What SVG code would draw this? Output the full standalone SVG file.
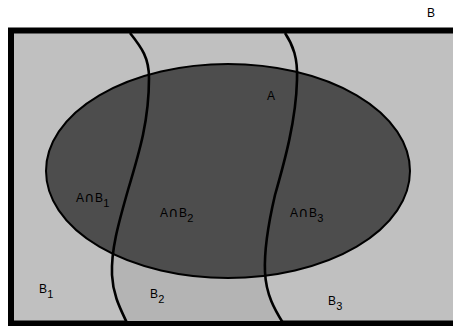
<svg xmlns="http://www.w3.org/2000/svg" width="453" height="326" viewBox="0 0 453 326">
<style>
.t{font-family:"Liberation Sans",Arial,sans-serif;font-size:12px;fill:#000;letter-spacing:0.3px}
.s{font-size:11px}
.c{font-family:"DejaVu Sans",sans-serif;font-size:14px}
.curve{fill:none;stroke:#000;stroke-width:2.6}
</style>
<defs>
<clipPath id="lower"><rect x="0" y="171" width="453" height="155"/></clipPath>
</defs>
<rect width="453" height="326" fill="#fff"/>
<g id="frame">
<rect x="11" y="30.5" width="450" height="293" fill="#c0c0c0" stroke="#000" stroke-width="6"/>
</g>
<g id="B2region">
<path clip-path="url(#lower)" fill="#b4b4b4" d="M130,33 C142,48 149,58 149,78 C149,120 140,150 128,190 C118,225 111,250 112,275 C113,295 120,308 127,321 L283,321 C275,310 266,295 265,272 C264,250 268,225 275,195 C285,160 296,120 297,80 C298,58 293,45 285,33 Z"/>
</g>
<g id="A">
<ellipse cx="228" cy="171" rx="182" ry="107" fill="#4d4d4d" stroke="#000" stroke-width="2"/>
</g>
<g id="connectors">
<path class="curve" d="M130,33 C142,48 149,58 149,78 C149,120 140,150 128,190 C118,225 111,250 112,275 C113,295 120,308 127,323"/>
<path class="curve" d="M285,33 C293,45 298,58 297,80 C296,120 285,160 275,195 C268,225 264,250 265,272 C266,295 275,310 283,323"/>
</g>
<g id="labels">
<text class="t" x="427" y="17">B</text>
<text class="t" x="267" y="100">A</text>
<text class="t" x="76" y="202">A<tspan class="c">∩</tspan>B<tspan class="s" dy="5">1</tspan></text>
<text class="t" x="160" y="217">A<tspan class="c">∩</tspan>B<tspan class="s" dy="5">2</tspan></text>
<text class="t" x="290" y="217">A<tspan class="c">∩</tspan>B<tspan class="s" dy="5">3</tspan></text>
<text class="t" x="39" y="293">B<tspan class="s" dy="5">1</tspan></text>
<text class="t" x="150" y="298">B<tspan class="s" dy="5">2</tspan></text>
<text class="t" x="328" y="305">B<tspan class="s" dy="5">3</tspan></text>
</g>
</svg>
